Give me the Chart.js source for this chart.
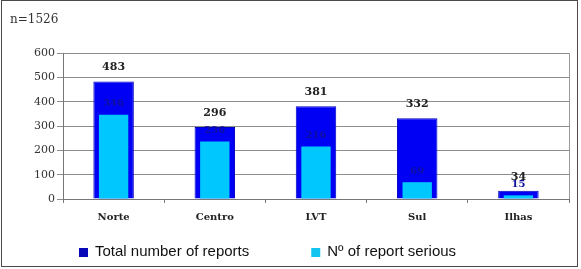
<!DOCTYPE html>
<html>
<head>
<meta charset="utf-8">
<script src="https://cdn.jsdelivr.net/npm/chart.js@4"></script>
<style>
  html, body { margin: 0; padding: 0; background: #fff; }
  #wrap { width: 581px; height: 269px; }
</style>
</head>
<body>
<div id="wrap"><canvas id="reportsChart" width="581" height="269"></canvas></div>
<script>
// Reports by region
const categories = ['Norte', 'Centro', 'LVT', 'Sul', 'Ilhas'];
const totalReports = [483, 296, 381, 332, 34];
const seriousReports = [346, 236, 216, 69, 15];
const yTicks = [0, 100, 200, 300, 400, 500, 600];
const sampleNote = 'n=1526';

// white page, outer frame and right edge of the plot box
const framePlugin = {
    id: 'frame',
    beforeDraw(chart) {
        const ctx = chart.ctx;
        ctx.save();
        ctx.fillStyle = '#fff';
        ctx.fillRect(0, 0, chart.width, chart.height);
        ctx.strokeStyle = '#4a4a4a';
        ctx.lineWidth = 1;
        ctx.strokeRect(1.5, 0.5, 576, 266);
        ctx.restore();
    },
    afterDraw(chart) {
        const a = chart.chartArea;
        const ctx = chart.ctx;
        ctx.save();
        ctx.strokeStyle = '#9a9a9a';
        ctx.lineWidth = 1;
        ctx.beginPath();
        ctx.moveTo(Math.round(a.right) + 0.5, a.top);
        ctx.lineTo(Math.round(a.right) + 0.5, a.bottom);
        ctx.stroke();
        ctx.restore();
    }
};

// value labels: totals above the bars, serious counts above the light bars
const valueLabels = {
    id: 'valueLabels',
    afterDatasetsDraw(chart) {
        const ctx = chart.ctx;
        ctx.save();
        ctx.textAlign = 'center';
        ctx.textBaseline = 'middle';
        chart.getDatasetMeta(0).data.forEach((bar, i) => {
            ctx.font = 'bold 11px "DejaVu Serif"';
            ctx.fillStyle = '#222';
            ctx.fillText(totalReports[i], bar.x, bar.y - 14);
        });
        chart.getDatasetMeta(1).data.forEach((bar, i) => {
            ctx.font = 'bold 10px "DejaVu Serif"';
            ctx.fillStyle = '#1010a0';
            ctx.fillText(seriousReports[i], bar.x, bar.y - 11);
        });
        ctx.restore();
    }
};

// legend below the axis, left of centre like the original
const bottomLegend = {
    id: 'bottomLegend',
    afterDraw(chart) {
        const ctx = chart.ctx;
        ctx.save();
        ctx.font = '15px "Liberation Sans"';
        ctx.textBaseline = 'middle';
        let x = 79;
        const y = 252;
        chart.data.datasets.forEach(ds => {
            ctx.fillStyle = ds.legendColor;
            ctx.fillRect(x, y - 4, 9, 9);
            ctx.fillStyle = '#111';
            ctx.fillText(ds.label, x + 16, y);
            x += 16 + ctx.measureText(ds.label).width + 62;
        });
        ctx.restore();
    }
};

const ctx = document.getElementById('reportsChart').getContext('2d');
const reportsChart = new Chart(ctx, {
    type: 'bar',
    data: {
        labels: categories,
        datasets: [{
            label: 'Total number of reports',
            data: totalReports,
            backgroundColor: '#0000f5',
            borderColor: '#0000c0',
            borderWidth: 1,
            legendColor: '#0808b8',
            grouped: false,
            order: 2,
            categoryPercentage: 1,
            barPercentage: 0.4
        }, {
            label: 'Nº of report serious',
            data: seriousReports,
            backgroundColor: '#00c8ff',
            borderWidth: 0,
            legendColor: '#14c4f0',
            grouped: false,
            order: 1,
            categoryPercentage: 1,
            barPercentage: 0.29
        }]
    },
    options: {
        responsive: false,
        animation: false,
        layout: { padding: { left: 10, right: 12, top: 0, bottom: 38 } },
        plugins: {
            legend: { display: false },
            tooltip: { enabled: false },
            title: {
                display: true,
                text: sampleNote,
                align: 'start',
                color: '#333',
                font: { family: '"DejaVu Serif"', size: 12, weight: 'normal' },
                padding: { top: 13, bottom: 25.6 }
            }
        },
        scales: {
            x: {
                grid: { drawOnChartArea: false, tickLength: 4, color: '#777' },
                border: { color: '#777' },
                ticks: {
                    color: '#222',
                    padding: 8,
                    font: { family: '"DejaVu Serif"', size: 10, weight: 'bold' }
                }
            },
            y: {
                min: 0,
                max: 600,
                afterBuildTicks: scale => { scale.ticks = yTicks.map(v => ({ value: v })); },
                afterFit: scale => { scale.width = 53; },
                grid: { color: '#8c8c8c', tickLength: 6 },
                border: { color: '#777' },
                ticks: {
                    color: '#333',
                    padding: 2,
                    font: { family: '"DejaVu Serif"', size: 11 }
                }
            }
        }
    },
    plugins: [framePlugin, valueLabels, bottomLegend]
});
</script>
</body>
</html>
